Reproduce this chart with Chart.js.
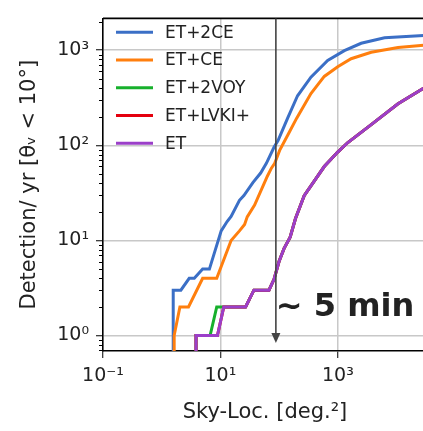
<!DOCTYPE html>
<html>
<head>
<meta charset="utf-8">
<script src="https://cdn.jsdelivr.net/npm/chart.js@4.4.1/dist/chart.umd.min.js"></script>
<style>
  html, body { margin: 0; padding: 0; background: #fff; overflow: hidden; }
  #wrap { width: 432px; height: 431px; }
</style>
</head>
<body>
<div id="wrap"><canvas id="grafico" width="432" height="431"></canvas></div>
<script>
const seriesNames = ['ET+2CE', 'ET+CE', 'ET+2VOY', 'ET+LVKI+', 'ET'];
const seriesColors = ['#3b6fc6', '#ff7f0e', '#17b02c', '#e4000e', '#9b3fc9'];

// sky-localization area (deg^2) vs cumulative detections per year
const areaET2CE = [1.57, 1.57, 2.12, 2.94, 3.59, 4.98, 6.49, 10.3, 13.0, 15.2, 21.1, 25.1, 35.7, 48.4, 60.6, 81.8, 95.8, 139, 206, 348, 671, 1291, 2495, 6250, 28800, 33000];
const detET2CE  = [0.5, 3, 3, 4, 4, 5, 5, 12.6, 15.8, 17.9, 26.4, 29.6, 40.5, 51.1, 64.6, 95.4, 112, 192, 332, 520, 782, 988, 1183, 1349, 1427, 1430];

const areaETCE = [1.63, 1.63, 2.04, 2.86, 4.98, 8.65, 15.2, 21.1, 25.8, 28.6, 38.2, 63, 73.8, 84, 102, 142, 198, 348, 587, 995, 1682, 3702, 10600, 28800, 33000];
const detETCE  = [0.5, 1, 2, 2, 4, 4, 10, 12.6, 14.7, 17.7, 23.5, 47.3, 57.5, 64.6, 88.4, 130, 192, 350, 530, 669, 814, 950, 1067, 1129, 1132];

const areaET2VOY = [3.84, 3.84, 6.67, 8.65, 11.4, 26.8, 37.2, 67.1, 81.8, 99.6, 121, 154, 190, 267, 587, 995, 1479, 3702, 10600, 28800, 33000];
const detET2VOY  = [0.5, 1, 1, 2, 2, 2, 3, 3, 3.9, 6, 8.2, 10.8, 17, 29.6, 59.8, 85, 107, 165, 273, 398, 420];

const areaETLVKI = [3.84, 3.84, 8.9, 11.4, 26.8, 37.2, 67.1, 81.8, 99.6, 121, 154, 190, 267, 587, 995, 1479, 3702, 10600, 28800, 33000];
const detETLVKI  = [0.5, 1, 1, 2, 2, 3, 3, 3.9, 6, 8.2, 10.8, 17, 29.6, 59.8, 85, 107, 165, 273, 398, 420];

const areaET = [3.84, 3.84, 8.9, 11.4, 26.8, 37.2, 67.1, 81.8, 99.6, 121, 154, 190, 267, 587, 995, 1479, 3702, 10600, 28800, 33000];
const detET  = [0.5, 1, 1, 2, 2, 3, 3, 3.9, 6, 8.2, 10.8, 17, 29.6, 59.8, 85, 107, 165, 273, 398, 420];

const xTickValues = [0.1, 10, 1000];
const xTickLabels = ['10\u207B\u00B9', '10\u00B9', '10\u00B3'];
const yTickValues = [1, 10, 100, 1000];
const yTickLabels = ['10\u2070', '10\u00B9', '10\u00B2', '10\u00B3'];
const arrowAt = 88;      // sky-loc. of the "~ 5 min" marker
const noteText = '~ 5 min';

function puntos(xs, ys) {
    return xs.map((x, i) => ({ x: x, y: ys[i] }));
}

const areas = [areaET2CE, areaETCE, areaET2VOY, areaETLVKI, areaET];
const dets = [detET2CE, detETCE, detET2VOY, detETLVKI, detET];

// later series are drawn on top (like matplotlib)
const datasets = seriesNames.map((name, i) => ({
    label: name,
    data: puntos(areas[i], dets[i]),
    borderColor: seriesColors[i],
    backgroundColor: seriesColors[i],
    borderWidth: 3,
    pointRadius: 0,
    tension: 0,
    fill: false,
    order: seriesNames.length - i
}));

// minor ticks of the y axis (2..9 per decade)
let yMinor = [];
for (let d = 0.1; d <= 1000; d *= 10) {
    for (let k = 2; k <= 9; k++) yMinor.push(Math.round(d * k * 1000) / 1000);
}

const textColor = '#222';

const extras = {
    id: 'extras',
    afterDatasetsDraw(chart) {
        const { ctx, chartArea, scales } = chart;
        const xs = scales.x, ys = scales.y;
        ctx.save();
        // top and right spines
        ctx.strokeStyle = '#000';
        ctx.lineWidth = 1.6;
        ctx.beginPath();
        ctx.moveTo(chartArea.left, chartArea.top);
        ctx.lineTo(chartArea.right, chartArea.top);
        ctx.lineTo(chartArea.right, chartArea.bottom);
        ctx.stroke();
        // minor y ticks
        ctx.lineWidth = 1;
        yMinor.forEach(v => {
            if (v < ys.min || v > ys.max) return;
            const y = Math.round(ys.getPixelForValue(v)) + 0.5;
            ctx.beginPath();
            ctx.moveTo(chartArea.left - 4, y);
            ctx.lineTo(chartArea.left, y);
            ctx.stroke();
        });
        // legend
        ctx.font = '17px "DejaVu Sans"';
        ctx.textBaseline = 'middle';
        ctx.textAlign = 'left';
        seriesNames.forEach((name, i) => {
            const y = 32.3 + i * 27.75;
            ctx.strokeStyle = seriesColors[i];
            ctx.lineWidth = 3;
            ctx.beginPath();
            ctx.moveTo(116, y);
            ctx.lineTo(153, y);
            ctx.stroke();
            ctx.fillStyle = textColor;
            ctx.fillText(name, 165, y + 1);
        });
        // arrow
        const ax = xs.getPixelForValue(arrowAt);
        ctx.strokeStyle = '#444';
        ctx.fillStyle = '#444';
        ctx.lineWidth = 1.6;
        ctx.beginPath();
        ctx.moveTo(ax, chartArea.top);
        ctx.lineTo(ax, 334);
        ctx.stroke();
        ctx.beginPath();
        ctx.moveTo(ax - 4.5, 333);
        ctx.lineTo(ax + 4.5, 333);
        ctx.lineTo(ax, 343);
        ctx.closePath();
        ctx.fill();
        // note
        ctx.fillStyle = textColor;
        ctx.font = 'bold 32px "DejaVu Sans"';
        ctx.textBaseline = 'alphabetic';
        ctx.fillText(noteText, ax, 316);
        ctx.restore();
    }
};

Chart.defaults.font.family = '"DejaVu Sans"';
Chart.defaults.color = textColor;

const config = {
    type: 'line',
    data: { datasets: datasets },
    options: {
        responsive: false,
        animation: false,
        devicePixelRatio: 1,
        layout: { padding: { left: 0, top: 7, right: 5, bottom: 0 } },
        plugins: {
            legend: { display: false },
            tooltip: { enabled: false }
        },
        scales: {
            x: {
                type: 'logarithmic',
                min: 0.1,
                max: 33000,
                afterFit: (s) => { s.height = 80; },
                afterBuildTicks: (s) => { s.ticks = xTickValues.map(v => ({ value: v, major: true })); },
                ticks: {
                    autoSkip: false,
                    maxRotation: 0,
                    padding: 7,
                    font: { size: 19 },
                    color: textColor,
                    callback: (v) => {
                        const i = xTickValues.indexOf(v);
                        return i >= 0 ? xTickLabels[i] : '';
                    }
                },
                grid: {
                    color: (c) => (c.tick && c.tick.value > 0.1) ? '#c8c8c8' : 'transparent',
                    lineWidth: 1.5,
                    tickLength: 7,
                    tickColor: '#000',
                    tickWidth: 1
                },
                border: { display: true, color: '#000', width: 1.6 },
                title: {
                    display: true,
                    text: 'Sky-Loc. [deg.\u00B2]',
                    font: { size: 21 },
                    color: textColor,
                    padding: { top: 0, bottom: 6 }
                }
            },
            y: {
                type: 'logarithmic',
                min: 0.688,
                max: 2160,
                afterFit: (s) => { s.width = 103; },
                afterBuildTicks: (s) => { s.ticks = yTickValues.map(v => ({ value: v, major: true })); },
                ticks: {
                    autoSkip: false,
                    padding: 7,
                    font: { size: 19 },
                    color: textColor,
                    callback: (v) => {
                        const i = yTickValues.indexOf(v);
                        return i >= 0 ? yTickLabels[i] : '';
                    }
                },
                grid: {
                    color: '#c8c8c8',
                    lineWidth: 1.5,
                    tickLength: 7,
                    tickColor: '#000',
                    tickWidth: 1
                },
                border: { display: true, color: '#000', width: 1.6 },
                title: {
                    display: true,
                    text: 'Detection/ yr [\u03B8\u1D65 < 10\u00B0]',
                    font: { size: 21 },
                    color: textColor,
                    padding: { top: 17, bottom: 0 }
                }
            }
        }
    },
    plugins: [extras]
};

const grafico = new Chart(document.getElementById('grafico'), config);
</script>
</body>
</html>
